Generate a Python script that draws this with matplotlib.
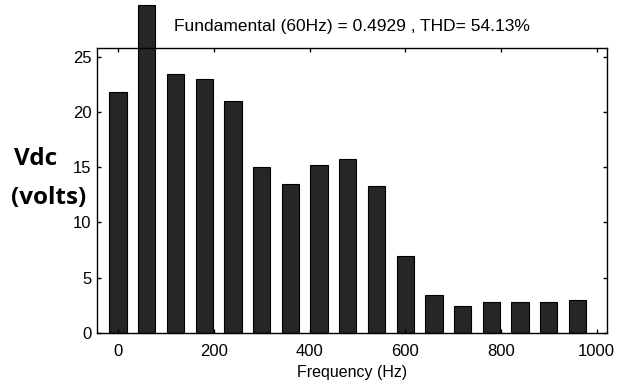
import matplotlib
matplotlib.use("Agg")
import matplotlib.pyplot as plt

# harmonic spectrum data
freqs = [0, 60, 120, 180, 240, 300, 360, 420, 480, 540, 600, 660, 720, 780, 840, 900, 960]
vdc = [21.8, 29.7, 23.4, 23.0, 21.0, 15.0, 13.5, 15.2, 15.7, 13.3, 7.0, 3.4, 2.4, 2.8, 2.8, 2.8, 3.0]
xticks = [0, 200, 400, 600, 800, 1000]
yticks = [0, 5, 10, 15, 20, 25]

plt.rcParams['font.family'] = ['Liberation Sans', 'DejaVu Sans']

fig = plt.figure(figsize=(6.3, 3.89), dpi=100)
ax = fig.add_axes([0.154, 0.144, 0.809, 0.733])

bars = ax.bar(freqs, vdc, width=36, color='#262626', edgecolor='black', linewidth=0.8)
for b in bars:
    b.set_clip_on(False)

ax.set_xlim(-44, 1021)
ax.set_ylim(0, 25.8)
ax.set_xticks(xticks)
ax.set_yticks(yticks)
ax.tick_params(direction='in', top=True, right=True, labelsize=12, length=3, width=1)
ax.tick_params(axis='x', pad=8)
ax.tick_params(axis='y', pad=4)
for s in ax.spines.values():
    s.set_linewidth(1.0)

ax.set_xlabel('Frequency (Hz)', fontsize=11.5, labelpad=4)
ax.set_title('Fundamental (60Hz) = 0.4929 , THD= 54.13%', fontsize=12.5, pad=12)

# y label drawn as two separate lines, like the reference
ylab_kw = dict(fontsize=17.5, fontweight='bold', ha='left', va='center',
               family=['Open Sans', 'DejaVu Sans'])
fig.text(0.022, 0.591, 'Vdc', **ylab_kw)
fig.text(0.017, 0.492, '(volts)', **ylab_kw)

fig.savefig('out.png', dpi=100)
